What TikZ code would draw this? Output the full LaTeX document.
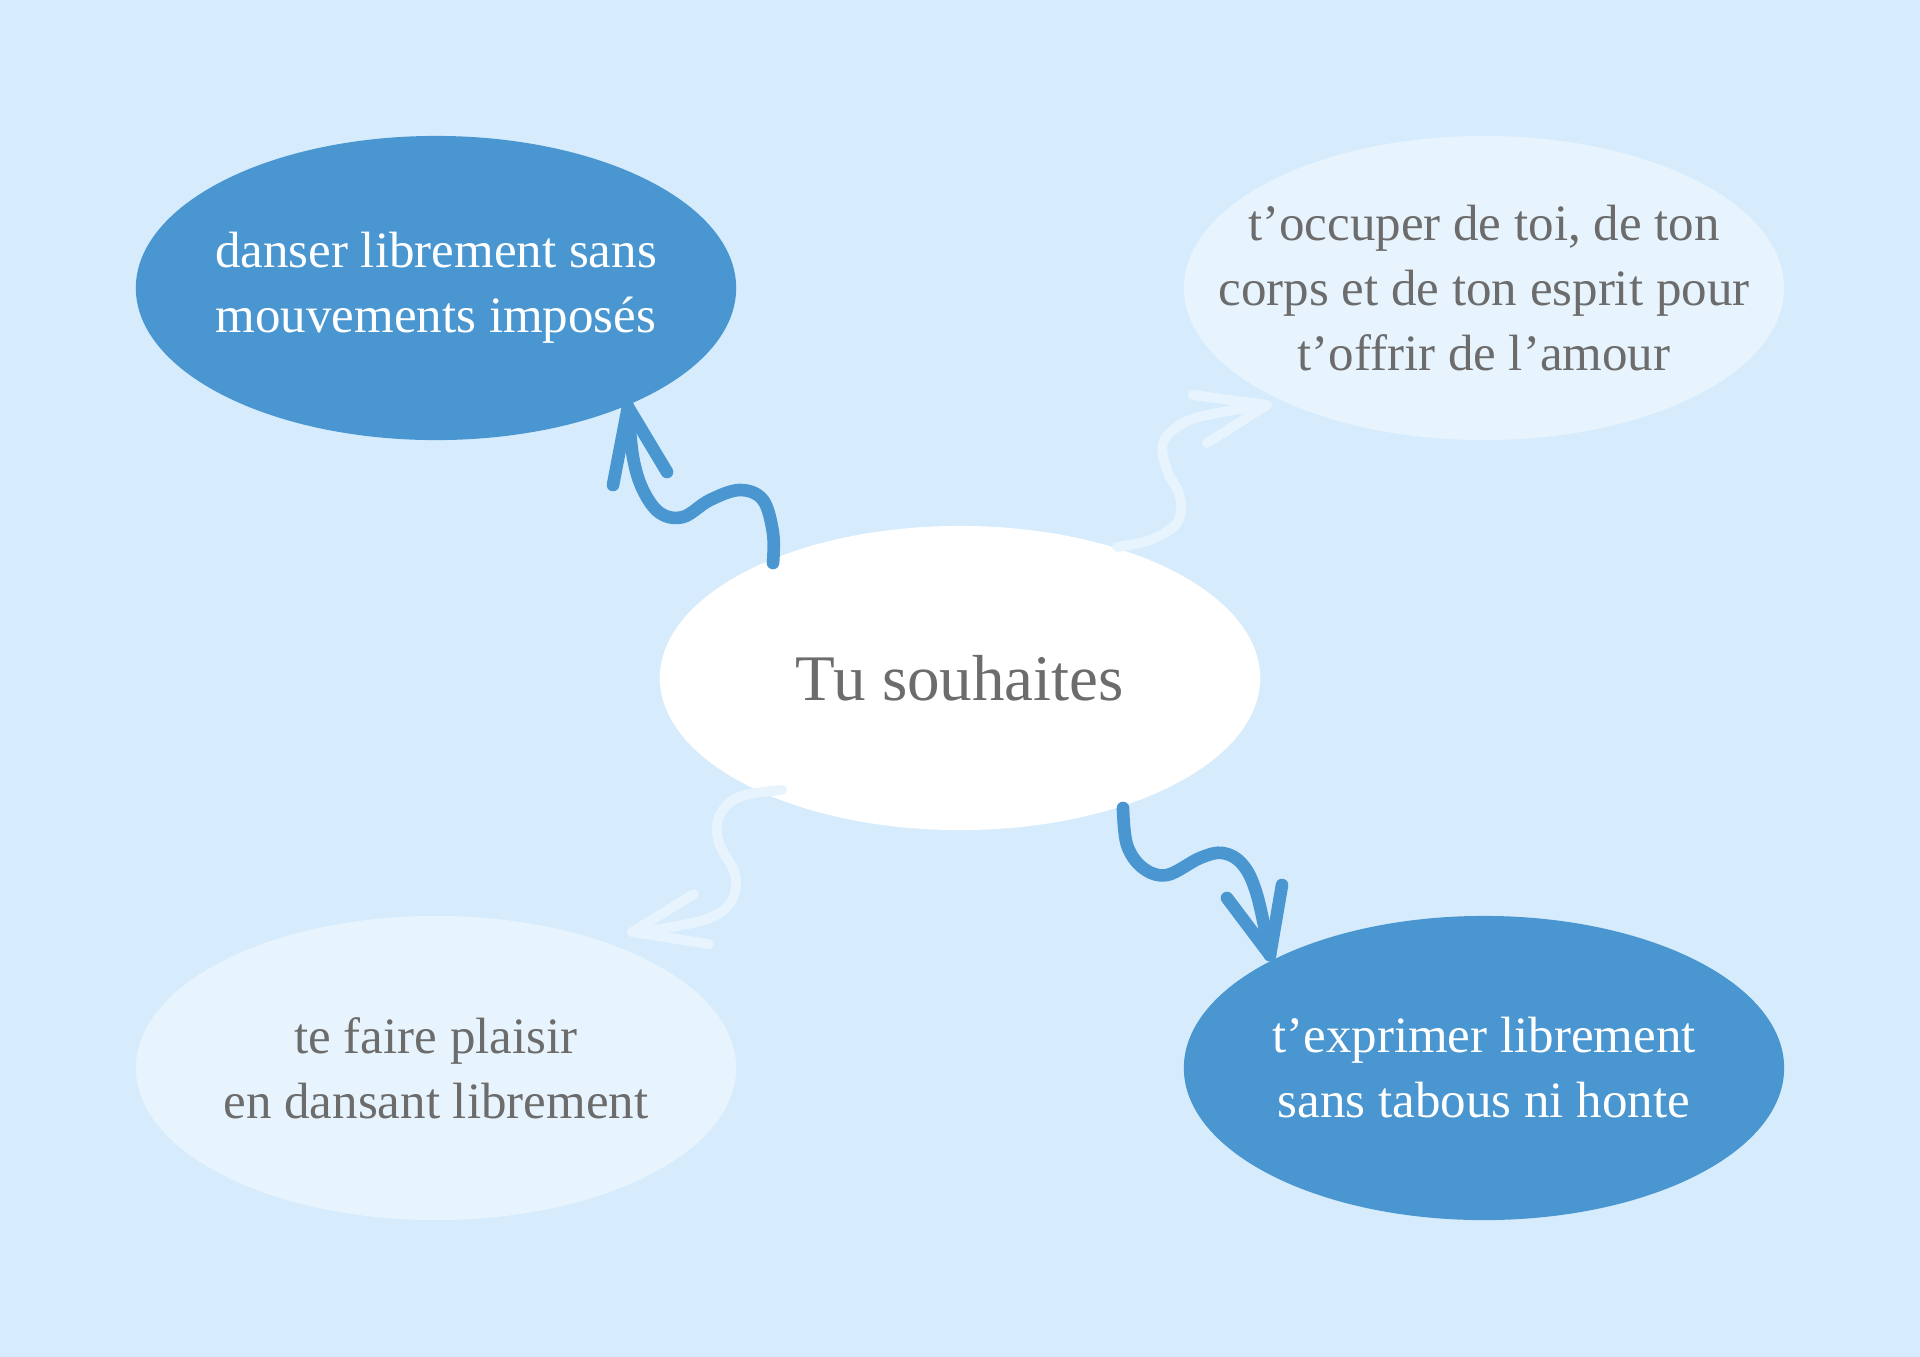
\documentclass[tikz,border=0pt]{standalone}
\usepackage{fontspec}
\setmainfont{Liberation Serif}
\usepackage{tikz}
\usetikzlibrary{shapes.geometric}
\definecolor{bgblue}{RGB}{214,236,252}
\definecolor{darkblob}{RGB}{74,150,208}
\definecolor{paleblob}{RGB}{231,244,254}
\definecolor{txtgray}{RGB}{108,108,108}
\tikzset{every node/.style={font=\fontsize{14.5}{18.5}\selectfont, align=center},
  blob/.style={ellipse, inner sep=0pt, minimum width=6cm, minimum height=3.04cm},
  darkblob/.style={blob, fill=darkblob, label={[text=white]center:#1}},
  paleblob/.style={blob, fill=paleblob, label={[text=txtgray]center:#1}},
  darkarrow/.style={draw=darkblob, line width=3.6pt, line cap=round, line join=round},
  palearrow/.style={draw=paleblob, line width=2.8pt, line cap=round, line join=round}}

\begin{document}
\begin{tikzpicture}[x=0.01cm, y=-0.01cm]
  \fill[bgblue] (0,0) rectangle (1920,1357);
  \node[darkblob={danser librement sans\\mouvements imposés}] (tl) at (436,288) {};
  \node[paleblob={t’occuper de toi, de ton\\corps et de ton esprit pour\\t’offrir de l’amour}] (tr) at (1484,288) {};
  \node[blob, fill=white, text=txtgray, font=\fontsize{18.5}{22}\selectfont] (ctr) at (960,678) {Tu souhaites};
  \node[paleblob={te faire plaisir\\en dansant librement}] (bl) at (436,1068) {};
  \node[darkblob={t’exprimer librement\\sans tabous ni honte}] (br) at (1484,1068) {};
  % connector ends
  \coordinate (tl-out) at (773,563);  \coordinate (tl-in) at (628,407);
  \coordinate (tr-out) at (1117,547); \coordinate (tr-in) at (1267,405);
  \coordinate (br-out) at (1123,808); \coordinate (br-in) at (1270,955);
  \coordinate (bl-out) at (782,790);  \coordinate (bl-in) at (632,932);
  \begin{scope}[darkarrow]
    \draw plot[smooth, tension=0.6] coordinates {(tl-out) (773,533) (763,500) (740,490) (710,500) (683,517) (660,513) (643,490) (633,457) (tl-in)};
    \draw (tl-in) -- (613,485);
    \draw (tl-in) -- (667,472);
    \draw plot[smooth, tension=0.6] coordinates {(br-out) (1127,845) (1143,868) (1167,875) (1200,858) (1223,853) (1243,865) (1257,895) (br-in)};
    \draw (br-in) -- (1227,898);
    \draw (br-in) -- (1282,885);
  \end{scope}
  \begin{scope}[palearrow]
    \draw plot[smooth, tension=0.6] coordinates {(tr-out) (1150,540) (1177,523) (1180,497) (1167,470) (1163,443) (1183,423) (1217,413) (tr-in)};
    \draw (tr-in) -- (1193,395);
    \draw (tr-in) -- (1207,443);
    \draw plot[smooth, tension=0.6] coordinates {(bl-out) (739,797) (719,817) (719,843) (735,874) (732,900) (712,917) (672,927) (bl-in)};
    \draw (bl-in) -- (694,894);
    \draw (bl-in) -- (709,944);
  \end{scope}
\end{tikzpicture}
\end{document}
